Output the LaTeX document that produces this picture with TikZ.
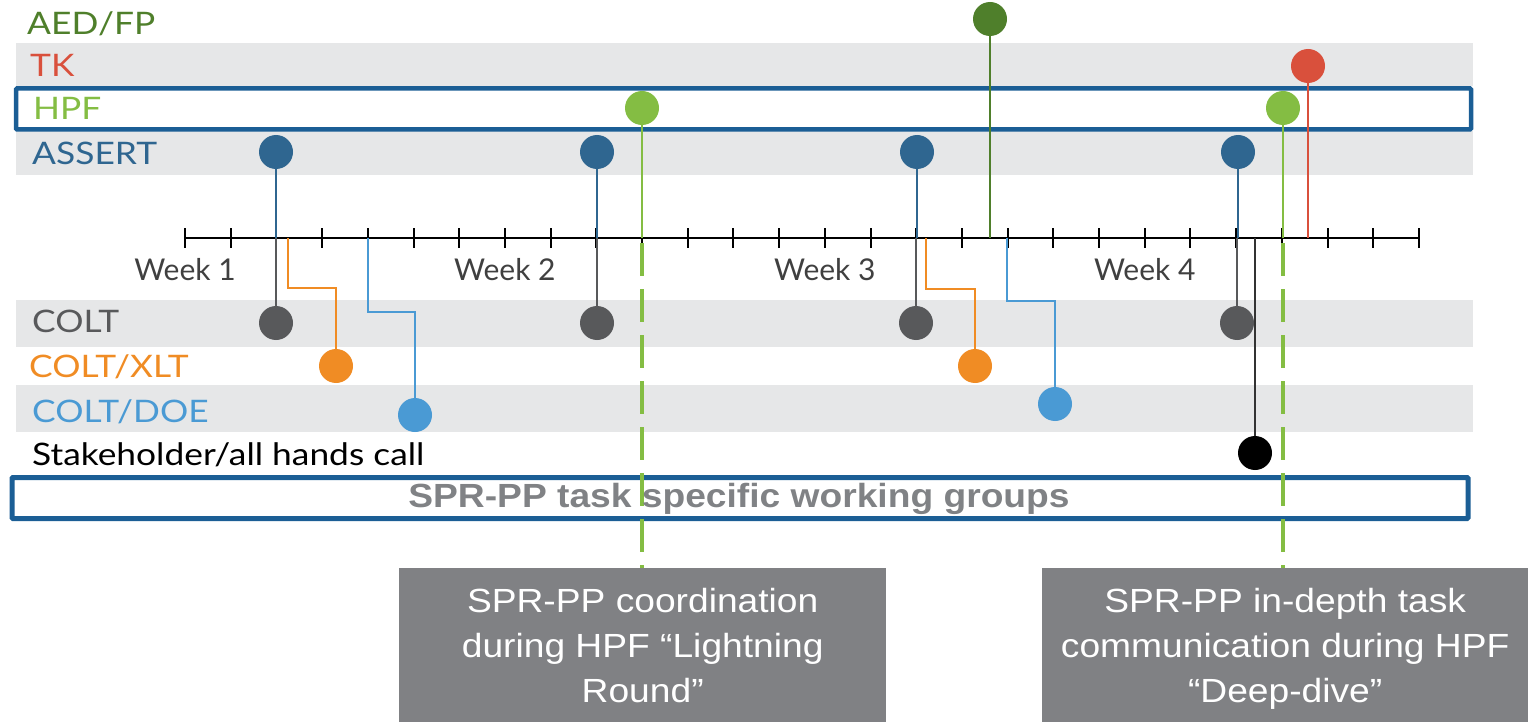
\documentclass[tikz,border=0pt]{standalone}
\usepackage{fontspec}
\setmainfont{Liberation Sans}
\newfontfamily\labfont{Lato}

\definecolor{bandgray}{HTML}{E6E7E8}
\definecolor{frameblue}{HTML}{1B5E95}
\definecolor{aedgreen}{HTML}{4F7F2B}
\definecolor{tkred}{HTML}{D9503C}
\definecolor{hpfgreen}{HTML}{84BD43}
\definecolor{assertblue}{HTML}{2F6690}
\definecolor{coltgray}{HTML}{58595B}
\definecolor{xltorange}{HTML}{F08C24}
\definecolor{doeblue}{HTML}{4A9AD4}
\definecolor{weekgray}{HTML}{404040}
\definecolor{notegray}{HTML}{808184}
\definecolor{groupgray}{HTML}{808285}

% wide-set lettering
\newcommand\rowtext[1]{\scalebox{1.14}[1]{#1}}
\newcommand\notetext[1]{\scalebox{1.11}[1]{\begin{tabular}{@{}c@{}}#1\end{tabular}}}

\begin{document}
\begin{tikzpicture}[x=1pt,y=-1pt,
  band/.style={fill=bandgray},
  frame/.style={draw=frameblue,line width=4.5pt,rounded corners=1pt},
  dot/.style={circle,inner sep=0pt,minimum size=34pt,fill=#1},
  pin/.style={draw=#1,line width=2pt},
  hpfdash/.style={draw=hpfgreen,line width=3.5pt,dash pattern=on 33pt off 13pt},
  rowlabel/.style={anchor=base west,inner sep=0pt,text=#1,
    font=\labfont\fontsize{31}{36}\selectfont},
  weeklabel/.style={anchor=base,inner sep=0pt,text=weekgray,
    font=\labfont\fontsize{30}{36}\selectfont},
  tick/.style={draw=black,line width=2pt},
  notebox/.style={fill=notegray,inner sep=0pt,
    minimum width=487pt,minimum height=154pt,anchor=north west},
  notelabel/.style={text=white,inner sep=0pt,
    font=\fontsize{33.5}{45}\selectfont}
]
\useasboundingbox (0,0) rectangle (1528,722);

% shaded rows
\fill[band] (16,43) rectangle (1473,86);
\fill[band] (16,131) rectangle (1473,175);
\fill[band] (16,300) rectangle (1473,347);
\fill[band] (16,385) rectangle (1473,432);

% highlighted rows
\draw[frame] (16,88.5) rectangle (1471,129.5);
\draw[frame,line width=5pt] (12,477.5) rectangle (1468,518.5);

% row labels
\node[rowlabel=aedgreen]   (lAED)  at (27,35)  {\rowtext{AED/FP}};
\node[rowlabel=tkred]      (lTK)   at (30,77)  {\rowtext{TK}};
\node[rowlabel=hpfgreen]   (lHPF)  at (33,120) {\rowtext{HPF}};
\node[rowlabel=assertblue] (lAS)   at (32,165) {\rowtext{ASSERT}};
\node[rowlabel=coltgray]   (lCO)   at (32,332) {\rowtext{COLT}};
\node[rowlabel=xltorange]  (lXL)   at (29,377) {\rowtext{COLT/XLT}};
\node[rowlabel=doeblue]    (lDOE)  at (32,422) {\rowtext{COLT/DOE}};
\node[rowlabel=black]      (lST)   at (32,465) {\rowtext{Stakeholder/all hands call}};

% timeline axis
\coordinate (axL) at (185,238);
\coordinate (axR) at (1419,238);
\draw[line width=2pt] (axL) -- (axR);
\foreach \k in {0,...,27}
  \draw[tick] (185+45.7*\k,228) -- (185+45.7*\k,248);
\foreach \w/\k in {1/0,2/7,3/14,4/21}
  \node[weeklabel] (wk\w) at (185+45.7*\k,280) {Week \w};

% meeting dots
\node[dot=aedgreen]   (aed)  at (990,19)   {};
\node[dot=tkred]      (tk)   at (1308,66)  {};
\node[dot=hpfgreen]   (hpf1) at (642,108)  {};
\node[dot=hpfgreen]   (hpf2) at (1283,108) {};
\node[dot=assertblue] (as1)  at (276,152)  {};
\node[dot=assertblue] (as2)  at (597,152)  {};
\node[dot=assertblue] (as3)  at (917,152)  {};
\node[dot=assertblue] (as4)  at (1238,152) {};
\node[dot=coltgray]   (co1)  at (276,323)  {};
\node[dot=coltgray]   (co2)  at (597,323)  {};
\node[dot=coltgray]   (co3)  at (916,323)  {};
\node[dot=coltgray]   (co4)  at (1237,323) {};
\node[dot=xltorange]  (xl1)  at (336,366)  {};
\node[dot=xltorange]  (xl2)  at (975,366)  {};
\node[dot=doeblue]    (doe1) at (415,415)  {};
\node[dot=doeblue]    (doe2) at (1055,404) {};
\node[dot=black]      (st)   at (1255,453) {};

% pins above the axis
\draw[pin=aedgreen]   (aed)  -- (aed |- axL);
\draw[pin=tkred]      (tk)   -- (tk |- axL);
\draw[pin=hpfgreen,line width=1.8pt] (hpf1) -- (hpf1 |- axL);
\draw[pin=hpfgreen,line width=1.8pt] (hpf2) -- (hpf2 |- axL);
\foreach \n in {as1,as2,as3,as4}
  \draw[pin=assertblue] (\n) -- (\n |- axL);

% pins below the axis
\foreach \n in {co1,co2,co3,co4}
  \draw[pin=coltgray] (\n |- axL) -- (\n);
\draw[pin=black!80] (st |- axL) -- (st);

\coordinate (xe1) at (288,288);
\coordinate (xe2) at (926,289);
\coordinate (de1) at (368,312);
\coordinate (de2) at (1007,301);
\draw[pin=xltorange] (xe1 |- axL) -- (xe1) -| (xl1);
\draw[pin=xltorange] (xe2 |- axL) -- (xe2) -| (xl2);
\draw[pin=doeblue]   (de1 |- axL) -- (de1) -| (doe1);
\draw[pin=doeblue]   (de2 |- axL) -- (de2) -| (doe2);

% HPF call-outs
\node[notebox] (lr) at (399,568) {};
\node[notebox,minimum width=486pt] (dd) at (1042,568) {};
\node[notelabel] (lrt) at ([yshift=-3pt]lr.center)
  {\notetext{SPR-PP coordination\\during HPF “Lightning\\Round”}};
\node[notelabel] (ddt) at ([yshift=-3pt]dd.center)
  {\notetext{SPR-PP in-depth task\\communication during HPF\\“Deep-dive”}};
\coordinate (d1) at (642,243);
\coordinate (d2) at (1283,243);
\draw[hpfdash] (d1) -- (d1 |- lr.north);
\draw[hpfdash] (d2) -- (d2 |- dd.north);

\node[anchor=base,inner sep=0pt,text=groupgray,
  font=\bfseries\fontsize{33.5}{38}\selectfont] (wg) at (739,507)
  {\scalebox{1.11}[1]{SPR-PP task specific working groups}};
\end{tikzpicture}
\end{document}
